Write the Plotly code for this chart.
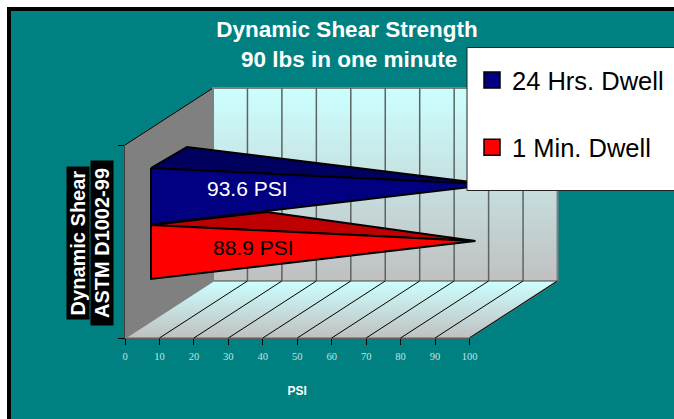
import plotly.graph_objects as go

# ---------- data ----------
series_names = ["24 Hrs. Dwell", "1 Min. Dwell"]
series_values = [93.6, 88.9]
series_labels = ["93.6 PSI", "88.9 PSI"]
x_ticks = [0, 10, 20, 30, 40, 50, 60, 70, 80, 90, 100]
chart_title = "Dynamic Shear Strength"
chart_subtitle = "90 lbs in one minute"
y_titles = ["Dynamic Shear", "ASTM D1002-99"]
x_title = "PSI"

# ---------- page geometry (pixels) ----------
W, H = 674, 419
X0, X100, Y0, YTOP = 125, 469.5, 338, 145
DX, DY = 88, 57
SCALE = (X100 - X0) / 100
LIFT = Y0 - YTOP
TEAL = "#008080"


def ox(v, off):
    """value + horizontal pixel offset -> x-axis units"""
    return v + off / SCALE


def px(x):
    return x / W


def py(y):
    return 1 - y / H


fig = go.Figure()
wall_grad = dict(type="vertical", colorscale=[[0, "#c0c0c0"], [1, "#ccffff"]])


def poly(xs, ys, fill=None, line="black", lw=1, grad=None):
    kw = dict(fillgradient=grad) if grad else dict(fillcolor=fill)
    fig.add_trace(go.Scatter(x=xs, y=ys, mode="lines", fill="toself", xaxis="x2", yaxis="y2",
                             line=dict(color=line, width=lw), showlegend=False,
                             hoverinfo="skip", **kw))


def seg(xs, ys, color, lw):
    fig.add_trace(go.Scatter(x=xs, y=ys, mode="lines", xaxis="x2", yaxis="y2",
                             line=dict(color=color, width=lw), showlegend=False,
                             hoverinfo="skip"))


# left wall
poly([0, 0, ox(0, DX), ox(0, DX), 0], [0, LIFT, LIFT + DY, DY, 0], fill="#808080", line="#808080")
seg([0, ox(0, DX)], [LIFT, LIFT + DY], "black", 1)
# back wall
poly([ox(0, DX), ox(100, DX), ox(100, DX), ox(0, DX), ox(0, DX)],
     [DY, DY, LIFT + DY, LIFT + DY, DY], line="#808080", lw=2, grad=wall_grad)
# floor
poly([0, 100, ox(100, DX), ox(0, DX), 0], [0, 0, DY, DY, 0], line="#808080", lw=1.5, grad=wall_grad)
# gridlines
for t in x_ticks[1:-1]:
    seg([ox(t, DX), ox(t, DX)], [DY, LIFT + DY], "#5a6464", 1.5)
for t in x_ticks[1:]:
    seg([t, ox(t, DX)], [0, DY], "black", 1)

# cones: (base top, base bottom, apex offset, apex lift, tip lift)
BASE_OFF, TIP_OFF = 26, 44
cones = [
    dict(top=170, bot=113.5, ax=62, ay=191, tip=153.5, front="#000080", back="#00005f"),
    dict(top=113, bot=59, ax=142, ay=126, tip=97, front="#ff0000", back="#bf0000"),
]
for v, c in zip(series_values, cones):
    tx = ox(v, TIP_OFF)
    bx = ox(0, BASE_OFF)
    poly([bx, ox(0, c["ax"]), tx, bx], [c["top"], c["ay"], c["tip"], c["top"]], fill=c["back"], lw=2)
    poly([bx, tx, bx, bx], [c["top"], c["tip"], c["bot"], c["top"]], fill=c["front"], lw=2)

# legend entries
for i, (n, c) in enumerate(zip(series_names, cones)):
    fig.add_trace(go.Scatter(x=[None], y=[None], mode="markers", name=n, legendgroup=n,
                             marker=dict(symbol="square", size=16, color=c["front"],
                                         line=dict(color="black", width=1.5))))

ann = []
for lab, xp, yp, col in zip(series_labels, [247, 253], [188, 248], ["white", "black"]):
    ann.append(dict(text=lab, x=px(xp), y=py(yp), xref="paper", yref="paper", showarrow=False,
                    xanchor="center", yanchor="middle",
                    font=dict(family="Liberation Sans", size=21, color=col)))
for lab, xp, yp, bw in zip(y_titles, [78, 102], [243, 243], [152, 164]):
    ann.append(dict(text="<b>" + lab + "</b>", x=px(xp), y=py(yp), xref="paper", yref="paper", showarrow=False,
                    xanchor="center", yanchor="middle",
                    textangle=-90, bgcolor="black", borderpad=0, height=22, width=bw,
                    font=dict(family="Liberation Sans", size=20, color="white")))
ann.append(dict(text="<b>" + chart_subtitle + "</b>", x=px(349), y=py(59), xref="paper", yref="paper",
                xanchor="center", yanchor="middle",
                showarrow=False, font=dict(family="Liberation Sans", size=22.5, color="white")))

fig.update_layout(
    width=W, height=H, margin=dict(l=0, r=0, t=0, b=0, autoexpand=False),
    paper_bgcolor="white", plot_bgcolor="rgba(0,0,0,0)",
    title=dict(text="<b>" + chart_title + "</b>", x=347 / W, xanchor="center", y=py(29), yanchor="middle",
               font=dict(family="Liberation Sans", size=22.5, color="white")),
    shapes=[dict(type="rect", xref="paper", yref="paper", layer="below",
                 x0=px(9), x1=px(690), y0=py(9), y1=py(421),
                 fillcolor=TEAL, line=dict(color="black", width=4)),
            dict(type="rect", xref="paper", yref="paper", layer="above",
                 x0=px(467), x1=px(690), y0=py(47.5), y1=py(190.5),
                 fillcolor="white", line=dict(color="#222222", width=1))],
    annotations=ann,
    xaxis=dict(domain=[px(X0), px(X100)], range=[0, 100], tickvals=x_ticks, ticks="outside", ticklen=6,
               tickcolor="black", showgrid=False, zeroline=False, showline=True, linecolor="black",
               ticklabelstandoff=2,
               tickfont=dict(family="Liberation Serif", size=10.5, color="#c4e2e2"),
               title=dict(text="<b>" + x_title + "</b>", standoff=26,
                          font=dict(family="Liberation Sans", size=12, color="white"))),
    yaxis=dict(domain=[py(Y0), py(YTOP)], range=[0, LIFT], tickvals=[0, LIFT], ticks="outside", ticklen=6,
               tickcolor="black", showticklabels=False, showgrid=False, zeroline=False,
               showline=True, linecolor="black"),
    xaxis2=dict(domain=[0, 1], range=[-X0 / SCALE, (W - X0) / SCALE], anchor="y2", visible=False),
    yaxis2=dict(domain=[0, 1], range=[-(H - Y0), Y0], anchor="x2", visible=False),
    legend=dict(x=px(472), y=py(57), xanchor="left", yanchor="top", bgcolor="rgba(0,0,0,0)",
                borderwidth=0, tracegroupgap=31, itemclick=False,
                font=dict(family="Liberation Sans", size=25.5, color="black")),
)

fig.write_html("out.html", post_script="document.body.style.margin='0';", config=dict(displayModeBar=False))
